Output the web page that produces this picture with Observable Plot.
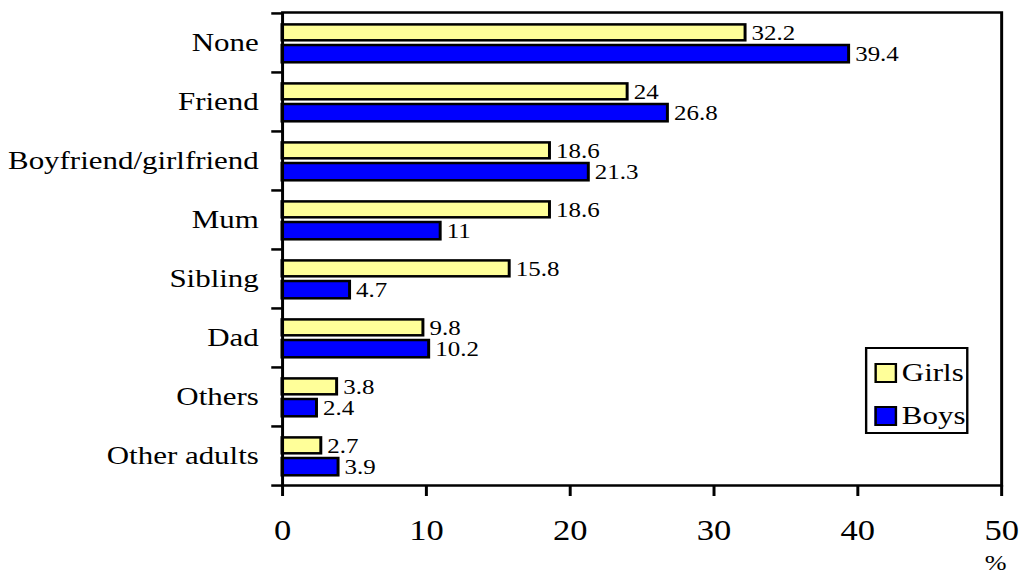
<!DOCTYPE html>
<html>
<head>
<meta charset="utf-8">
<script src="https://cdn.jsdelivr.net/npm/d3@7"></script>
<script src="https://cdn.jsdelivr.net/npm/@observablehq/plot@0.6"></script>
<style>
  html, body { margin: 0; padding: 0; background: #fff; overflow: hidden; }
  #wrap { position: relative; width: 859px; height: 579px; transform-origin: 0 0; }
  #legend {
    position: absolute; left: 727px; top: 347px; width: 83px; height: 83px;
    border: 2px solid #000; background: #fff; box-sizing: content-box;
    font-family: "Liberation Serif", "Times New Roman", serif; font-size: 26px; color: #000;
  }
  .item { position: absolute; left: 6px; display: flex; align-items: center; height: 26px; }
  .sw { width: 15px; height: 16px; border: 2px solid #000; margin-right: 4px; }
</style>
</head>
<body>
<div id="wrap">
  <div id="chart"></div>
  <div id="legend">
    <div class="item" style="top:11px"><div class="sw" style="background:#FFFF99"></div><span>Girls</span></div>
    <div class="item" style="top:54px"><div class="sw" style="background:#0000FF"></div><span>Boys</span></div>
  </div>
</div>
<script>
const categories = ["None", "Friend", "Boyfriend/girlfriend", "Mum", "Sibling", "Dad", "Others", "Other adults"];
const girls = [32.2, 24, 18.6, 18.6, 15.8, 9.8, 3.8, 2.7];
const boys = [39.4, 26.8, 21.3, 11, 4.7, 10.2, 2.4, 3.9];
const xTicks = [0, 10, 20, 30, 40, 50];

const W = 859, H = 579;
const SX = 1022 / W;
const mTop = 12, mBottom = 94;
const band = (H - mTop - mBottom) / categories.length;

const girlsData = categories.map((c, i) => ({category: c, value: girls[i]}));
const boysData = categories.map((c, i) => ({category: c, value: boys[i]}));

const serif = "'Liberation Serif', 'Times New Roman', serif";
const LW = 2.5;

const chart = Plot.plot({
  width: W,
  height: H,
  marginLeft: 237,
  marginRight: 17.6,
  marginTop: mTop,
  marginBottom: mBottom,
  style: {fontFamily: serif, color: "#000", background: "#fff"},
  x: {domain: [0, 50], ticks: xTicks},
  y: {domain: categories, padding: 0},
  marks: [
    Plot.barX(girlsData, {x: "value", y: "category", fill: "#FFFF99", stroke: "#000", strokeWidth: LW, insetTop: 11.4, insetBottom: 31.7}),
    Plot.barX(boysData, {x: "value", y: "category", fill: "#0000FF", stroke: "#000", strokeWidth: LW, insetTop: 32, insetBottom: 9.7}),
    Plot.text(girlsData, {x: "value", y: "category", text: d => String(d.value), textAnchor: "start", dx: 5, dy: -10.2, fontSize: 21, fill: "#000"}),
    Plot.text(boysData, {x: "value", y: "category", text: d => String(d.value), textAnchor: "start", dx: 5, dy: 11.1, fontSize: 21, fill: "#000"}),
    Plot.frame({stroke: "#000", strokeWidth: LW}),
    Plot.ruleY(categories, {y: d => d, x1: 0, x2: 0, insetLeft: -9, dy: -band / 2, stroke: "#000", strokeWidth: LW}),
    Plot.ruleY([categories[categories.length - 1]], {y: d => d, x1: 0, x2: 0, insetLeft: -9, dy: band / 2, stroke: "#000", strokeWidth: LW}),
    Plot.axisY({tickSize: 0, tickPadding: 20, fontSize: 26, label: null}),
    Plot.axisX({ticks: xTicks, tickSize: 11, tickPadding: 23, fontSize: 29, label: null, strokeWidth: LW}),
    Plot.text(["%"], {frameAnchor: "bottom-right", dx: 4, dy: 84, fontSize: 22, fill: "#000"})
  ]
});
document.getElementById("chart").appendChild(chart);
document.getElementById("wrap").style.transform = `scaleX(${SX})`;
</script>
</body>
</html>
